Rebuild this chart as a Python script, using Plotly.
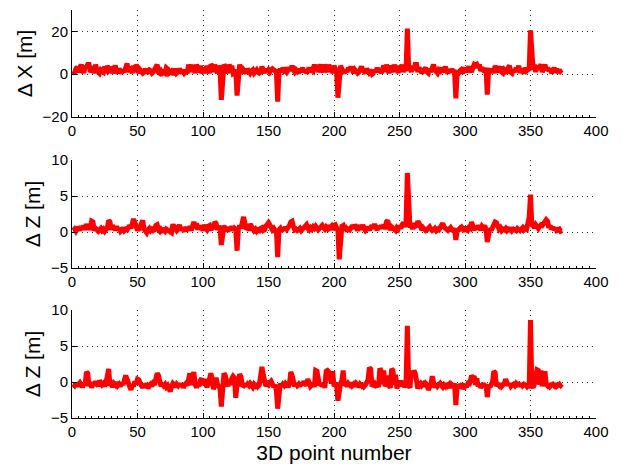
import plotly.graph_objects as go

# Position error per reconstructed 3D point (x = point number)
dx = [
    1.5, 0.5, 2.5, 3.5, 1, 3, 4.5, 2, 0.5, 4,
    3, 4.5, 4.5, 1, 2.5, 3.5, 0.5, 4.5, 2, 1,
    0.5, 2, 1.5, 1, 3.5, 0.5, 4, 1.5, 2, 3.5,
    0.5, 2.5, 4, 1.5, 0.5, 2.5, 1, 0.5, 2, 1,
    3, 5, 1, 3.5, 2, 0.5, 4, 1, 4.5, 3,
    0.5, 2, 1.5, 0.5, 1, 2.5, 0.5, 1, 2, 1.5,
    0.5, 1, 2, 3, 4.5, 1, 0.5, 1.5, 0.5, 1,
    0.5, 3, 2.5, 0.5, 1, 1.5, 0.5, 0.5, 2.5, 0.5,
    1, 2.5, 1.5, 0.5, 2, 0.5, 1, 0.5, 4.5, 2,
    4.5, 1, 3.5, 0.5, 4.5, 3, 1, 4, 0.5, 1.5,
    3, 0.5, 4, 2, 0.5, 4.5, 4, 1, 4.5, 2,
    0.5, 4, 2, -12, 1, 4.5, 3.5, 1, 0.5, 4.5,
    2.5, 4, 0.5, 1, 2, -10, 1.5, 4.5, 2, 0.5,
    2, 1, 0.5, 2.5, 1, 0.5, 1.5, 2, 0.5, 1,
    2, 1, 0.5, 1, 3.5, 2, 0.5, 2.5, 1, 2,
    1, 2, 2.5, 2, 1.5, 2, -12.8, 1, 2.5, 1,
    3, 1.5, 2, 1, 2.5, 3, 1.5, 4, 2, 1,
    2, 1, 0.5, 2.5, 1, 3, 1, 2, 0.5, 1.5,
    3, 1, 2, 1.5, 4.5, 2, 4.5, 1, 3.5, 4.5,
    2, 1, 4.5, 3, 1, 4.5, 2, 3, 0.5, 4,
    2.5, 1, -11, 1, 4, 2.5, 1, 0.5, 2, 1,
    3, 2, 3.5, 1, 0.5, 2, 1.5, 0.5, 1, 2.5,
    3.5, 2, 1, 0.5, 2.5, 1, 0.5, 1, 0, 0.5,
    2, 1, 3, 1, 2, 0.5, 3.5, 4, 1, 4.5,
    2, 0.5, 4, 3, 1, 4.5, 2, 3.5, 0.5, 4,
    2, 4.5, 1, 3, 1.5, 21.3, 2, 3.5, 1, 4,
    2, 4.5, 4.5, 1, 3, 2, 0.5, 1.5, 2, 3,
    1, 0.5, 2.5, 1, 3, 4.5, 2, 1, 0.5, 2,
    1.5, 3, 1, 2, 3.5, 1.5, 0.5, 2, 1, 2.5,
    1, 2, -11.3, 1, 0.5, 1.5, 2, 0.5, 2, 3,
    1, 2, 3.5, 2, 1, 3, 4.5, 4, 4.5, 3,
    4.5, 1.5, 3, 2, 1, 3, -9.5, 1.5, 2.5, 1,
    2, 0.5, 4, 2, 1, 2.5, 3.5, 1, 0.5, 2,
    1, 0.5, 3, 4, 1, 0.5, 2, 1, 3, 1.5,
    4, 0.5, 2.5, 1, 0.5, 3, 1.5, 2, 2.5, 20.5,
    3, 2, 4.5, 1, 4, 2.5, 3.5, 4.5, 1, 3,
    4.5, 2, 3, 1.5, 2.5, 0.5, 2, 3, 1, 2.5,
    0.5, 2, 1, 0.5,
]

dz_a = [
    0.2, 0.4, 0.1, 0.3, 0.7, 0.2, 0.8, 0.4, 0.9, 0.3,
    1.1, 0.5, 0.9, 0.3, 1.5, 1.4, 0.2, 0.5, 0.3, 0.1,
    0.3, 0.5, 0.2, 0.4, 0.1, 0.3, 0.6, 1.6, 1.4, 0.3,
    0.9, 0.6, 0.3, 0.8, 0.2, 0.5, 0.1, 0.3, 0.6, 0.2,
    0.4, 0.3, 0.6, 0.9, 0.5, 1.4, 1.8, 1.3, 0.4, 0.2,
    0.5, 0.3, 1.2, 1.6, 0.4, 0.1, -0.1, 0.3, 0.5, 0.2,
    0.4, 0.2, 0.3, 0.9, 1.0, 0.3, 0.1, 0.4, 0.2, 0.3,
    0.1, 0.4, 0.3, 0.2, 0.0, -0.1, 1.1, 0.3, 0.5, 0.2,
    0.4, 1.0, 0.2, 0.6, 0.3, 0.4, 0.1, 0.7, 0.3, 0.8,
    0.2, 1.0, 1.4, 0.6, 1.2, 0.3, 0.9, 0.4, 0.7, 0.2,
    1.0, 0.5, 0.3, 0.8, 0.9, 0.2, 1.0, 0.4, 1.4, 1.2,
    0.3, 0.8, 0.5, -1.8, 0.2, 0.9, 0.4, 0.7, 0.1, 0.6,
    0.3, 0.8, 0.2, 0.5, 0.3, -2.6, 0.4, 0.9, 0.5, 1.5,
    2.1, 1.2, 0.4, 0.6, 0.2, 1.1, 0.7, 0.3, 0.2, 0.4,
    0.1, 0.3, 0.2, 0.5, 0.6, 0.2, 0.3, 0.8, 1.0, 1.3,
    1.0, 0.4, 0.3, 0.5, 0.2, 0.4, -3.5, 0.3, 0.5, 0.1,
    0.6, 0.3, 0.7, 0.4, 0.6, 0.9, 1.4, 1.5, 0.8, 0.3,
    0.4, 0.2, 0.3, 0.5, 0.2, 0.4, 0.6, 0.9, 1.0, 0.5,
    0.3, 0.6, 0.4, 0.7, 0.5, 0.8, 0.6, 0.3, 0.5, 0.8,
    0.9, 0.6, 0.4, 0.7, 0.5, 0.9, 0.6, 0.8, 0.3, 0.9,
    1.0, 0.6, 0.2, -3.8, 0.4, 0.8, 0.9, 0.3, 0.5, 0.1,
    0.4, 0.3, 0.6, 0.9, 0.5, 1.0, 0.7, 0.2, 0.6, 0.9,
    0.3, 1.0, 0.5, 0.2, 0.4, 0.7, 0.3, 0.8, 0.9, 0.5,
    1.1, 0.6, 0.3, 0.8, 0.5, 0.9, 0.6, 1.0, 0.4, 1.4,
    1.6, 0.8, 0.3, 0.7, 0.5, 0.3, 0.2, 0.6, 0.4, 0.9,
    0.5, 1.0, 1.3, 0.7, 1.4, 8.2, 1.2, 0.6, 1.0, 0.4,
    1.2, 0.8, 0.9, 1.5, 1.2, 0.5, 0.3, 0.6, 0.4, 0.2,
    0.3, 0.5, 0.7, 0.4, 0.2, 0.3, 0.5, 0.2, 0.4, 0.3,
    0.6, 1.1, 1.2, 0.7, 0.5, 0.3, 0.2, 0.4, 0.6, 0.3,
    0.2, 0.5, -1.1, 0.1, 0.3, 0.5, 0.2, 0.6, 0.4, 0.7,
    0.3, 0.2, 0.6, 0.5, 1.4, 0.9, 0.3, 0.7, 0.4, 0.9,
    0.5, 0.3, 0.8, 0.6, 0.9, 0.4, -1.4, 0.3, 0.5, 0.2,
    0.6, 0.7, 1.4, 1.3, 1.0, 0.4, 0.6, 0.2, 0.4, 0.3,
    0.5, 0.2, 0.4, 0.3, 0.6, 0.2, 0.4, 0.3, 0.2, 0.5,
    0.3, 0.2, 0.4, 0.6, 0.3, 0.5, 0.4, 1.7, 2.0, 5.2,
    1.0, 0.9, 0.6, 1.0, 0.7, 0.5, 0.8, 1.0, 0.9, 1.1,
    1.4, 1.7, 1.5, 0.6, 0.9, 0.4, 0.7, 0.3, 0.6, 0.2,
    0.3, 0.4, 0.1, 0.2,
]

dz_b = [
    -0.3, -0.5, -0.2, -0.6, -0.3, -0.1, -0.4, -0.7, -0.2, -0.5,
    1.4, 1.2, -0.6, 0.0, -0.8, -0.2, -0.5, 0.1, -0.3, -0.6,
    0.2, 0.0, -0.4, -0.2, -0.6, -0.1, 1.2, 1.8, -0.5, -0.3,
    -0.7, -0.2, -0.4, 0.0, -0.5, -0.3, -0.6, -0.1, -0.4, 0.2,
    0.9, 0.4, -0.3, -0.8, -1.1, -0.4, -0.6, 0.1, -0.3, 0.4,
    0.3, -0.2, -0.5, -0.8, -0.3, -0.6, -0.2, -0.9, -0.5, -0.3,
    -0.6, -0.2, -0.4, 0.3, 1.2, 0.9, -0.3, -0.6, -0.2, -0.5,
    -0.3, -0.7, -0.5, -1.0, -1.3, -0.6, -0.2, -0.4, -0.7, -0.3,
    -0.5, -0.2, -0.6, -0.3, -0.8, -0.4, -0.2, -0.5, 1.0, 1.2,
    -0.4, 1.3, 1.4, -0.3, -0.8, -0.2, -0.6, 0.2, 0.5, -0.4,
    0.4, -0.2, -0.7, -0.3, 0.8, 1.2, 0.5, -1.0, -0.4, 0.6,
    -0.3, -0.6, -0.9, -3.4, -0.5, 1.2, 0.9, -0.2, -0.6, 0.3,
    -0.4, 0.5, 0.8, 0.6, -2.2, -0.3, -0.6, 1.1, 0.7, -0.4,
    -0.5, -0.2, -0.6, -0.3, -0.5, -0.2, -0.4, -0.7, -0.3, -0.5,
    -0.2, -0.6, -0.4, 0.6, 2.1, 1.0, -0.3, -0.6, -0.2, -0.4,
    -0.1, 0.1, -0.3, -0.7, -0.4, -1.2, -3.7, -0.5, -0.2, -0.6,
    -0.3, -0.5, -0.2, -0.4, -0.7, -0.3, 1.4, 0.9, -0.4, -0.6,
    -0.2, -0.5, -0.3, -0.6, -0.1, -0.4, 0.1, -0.2, -0.5, 0.4,
    -0.3, -0.6, -0.4, -0.1, -0.7, 1.6, 1.5, 0.3, -0.5, -0.2,
    -0.6, -0.3, -0.8, 1.5, 1.6, 1.4, 0.6, -0.2, 1.5, -0.6,
    -0.3, -0.5, -2.6, -0.4, -0.2, 0.2, 1.6, -0.5, -0.3, -0.6,
    -0.2, -0.4, -0.1, -0.5, -0.3, -0.6, -0.2, -0.4, -0.7, -0.3,
    -0.5, -0.2, -0.6, -0.4, -0.1, 0.3, 2.0, 1.8, -0.6, -0.3,
    -0.2, -0.5, -0.4, -0.7, 1.9, 1.5, -0.3, 1.6, -0.6, -0.2,
    0.9, -0.5, -0.8, 1.8, 1.6, -0.4, 1.0, -0.9, -0.3, -0.5,
    0.2, -0.6, -0.3, -0.7, -0.2, 7.8, -0.5, -0.8, 1.5, 0.8,
    1.6, 1.2, -0.6, -0.9, -0.4, -0.2, -0.5, -0.3, -0.6, -0.2,
    -0.4, -1.1, -0.7, -0.3, 0.8, -0.5, -0.8, -0.3, -0.6, -0.4,
    -0.2, -0.5, -0.7, -0.4, -0.6, -0.2, -0.5, -0.3, -0.8, -0.4,
    -0.6, -0.2, -3.2, -0.5, -0.9, -0.3, -0.6, -0.2, -1.0, -0.4,
    -0.7, -0.3, -0.5, 0.1, 0.9, 0.6, 0.8, -0.4, 0.5, -0.6,
    -0.3, -0.8, -0.5, -0.2, -0.6, -0.3, -2.1, -0.4, -0.7, -0.3,
    0.0, 1.5, 1.3, -0.6, -0.3, -0.5, -0.2, -0.6, -0.4, -0.2,
    0.4, -0.3, -0.5, -0.2, -0.6, -0.4, -0.3, -0.5, -0.2, -0.4,
    -0.3, -0.6, -0.2, -0.5, -0.3, -0.4, -0.6, -0.2, -0.9, 8.6,
    -0.5, -0.8, -0.3, 0.8, 1.7, 1.6, -0.4, 1.6, -0.6, 0.3,
    1.5, -0.3, -0.5, -0.2, -0.6, -0.4, -0.3, -0.5, -0.2, -0.6,
    -0.4, -0.3, -0.5, -0.3,
]

panels = [
    (dx, "Δ X [m]", [-20, 30], [-20, 0, 20]),
    (dz_a, "Δ Z [m]", [-5, 10], [-5, 0, 5, 10]),
    (dz_b, "Δ Z [m]", [-5, 10], [-5, 0, 5, 10]),
]
x_ticks = [0, 50, 100, 150, 200, 250, 300, 350, 400]

W, H = 623, 466
# panel boxes in pixels: (top, bottom)
boxes = [(10, 117), (160, 268), (310, 418)]
left_px, right_px = 72, 596

font = "Liberation Sans, Arial, Helvetica, sans-serif"
fig = go.Figure()
layout = dict(
    width=W, height=H, autosize=False,
    margin=dict(l=0, r=0, t=0, b=0, pad=0, autoexpand=False),
    paper_bgcolor="white", plot_bgcolor="white",
    showlegend=False,
    font=dict(family=font, size=15, color="black"),
)

for i, ((vals, ytitle, yrange, yticks), (top, bot)) in enumerate(zip(panels, boxes)):
    n = i + 1
    xa = "x" if n == 1 else f"x{n}"
    ya = "y" if n == 1 else f"y{n}"
    fig.add_trace(go.Scatter(
        x=list(range(1, len(vals) + 1)), y=vals,
        mode="lines", line=dict(color="#ff0000", width=5),
        xaxis=xa, yaxis=ya, hoverinfo="skip",
    ))
    axis_common = dict(
        showline=True, linecolor="black", linewidth=1,
        ticks="inside", ticklen=5, tickcolor="black",
        showgrid=True, gridcolor="#333333", griddash="1px,4px", gridwidth=1,
        zeroline=False, tickfont=dict(size=15, family=font),
        automargin=False,
    )
    xkey = "xaxis" if n == 1 else f"xaxis{n}"
    ykey = "yaxis" if n == 1 else f"yaxis{n}"
    layout[xkey] = dict(
        axis_common,
        domain=[left_px / W, right_px / W],
        anchor=ya, range=[0, 400],
        tickmode="array", tickvals=x_ticks,
        minor=dict(dtick=5, ticks="inside", ticklen=2, tickcolor="black", showgrid=False),
    )
    if n == 3:
        layout[xkey]["title"] = dict(text="3D point number", font=dict(size=21, family=font), standoff=6)
    layout[ykey] = dict(
        axis_common,
        domain=[(H - bot) / H, (H - top) / H],
        anchor=xa, range=yrange,
        tickmode="array", tickvals=yticks,
        title=dict(text=ytitle, font=dict(size=21, family=font), standoff=4),
    )

fig.update_layout(**layout)
fig.write_html("out.html", config={"responsive": False, "displayModeBar": False})
